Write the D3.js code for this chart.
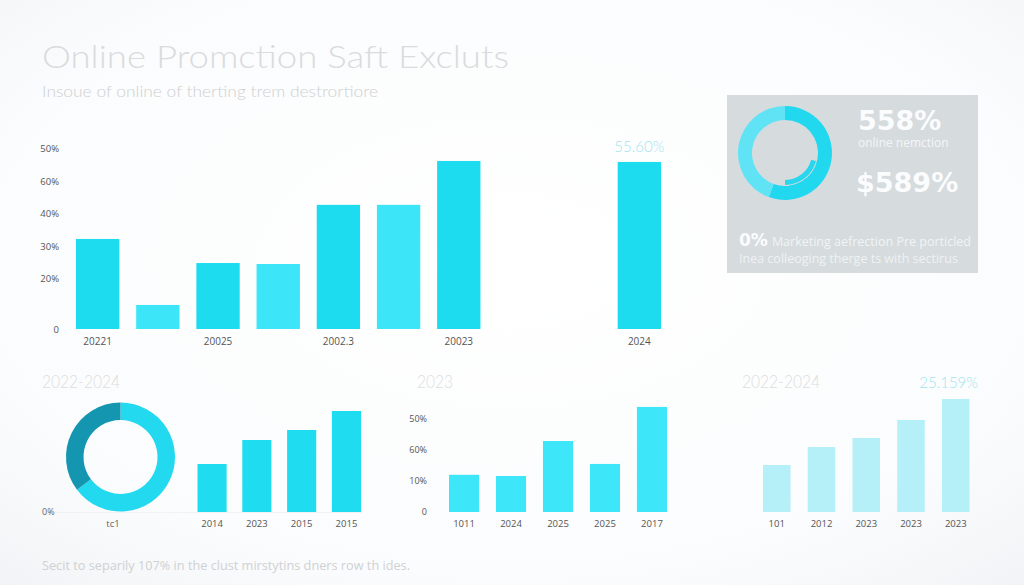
<!DOCTYPE html>
<html>
<head>
<meta charset="utf-8">
<script src="https://cdn.jsdelivr.net/npm/d3@7/dist/d3.min.js"></script>
<style>
  html, body { margin: 0; padding: 0; background: #fbfcfd; }
  svg { display: block; }
  .tick text { font-family: "Open Sans", sans-serif; }
</style>
</head>
<body>
<svg id="chart" width="1024" height="585"></svg>
<script>
// # DATA
// # ------------------------------
var mainLabels  = ["20221", "", "20025", "", "2002.3", "", "20023", "", "", "2024"];
var mainValues  = [27.7, 7.4, 20.3, 20.0, 38.2, 38.2, 51.7, null, null, 51.4];
var mainShade   = ["dark", "light", "dark", "light", "dark", "light", "dark", "", "", "dark"];
var mainTicks   = [0, 15.4, 25.4, 35.4, 45.4, 55.4];
var mainTickTxt = ["0", "20%", "30%", "40%", "60%", "50%"];

var panelRing   = [55.6, 44.4];
var panelInner  = [29, 21, 50];

var leftRing    = [64.7, 35.3];
var leftLabels  = ["2014", "2023", "2015", "2015"];
var leftValues  = [24, 36, 41, 50.5];

var midLabels   = ["1011", "2024", "2025", "2025", "2017"];
var midValues   = [12.0, 11.6, 22.9, 15.5, 33.9];
var midTicks    = [0, 10, 20, 30];
var midTickTxt  = ["0", "10%", "60%", "50%"];

var rightLabels = ["101", "2012", "2023", "2023", "2023"];
var rightValues = [23.5, 32.5, 37, 46, 56.5];

var svg = d3.select("#chart");

// ## background
// # ------------------------------
var defs = svg.append("defs");
var bg = defs.append("radialGradient").attr("id", "bg")
    .attr("cx", "50%").attr("cy", "45%").attr("r", "75%");
bg.append("stop").attr("offset", "0%").attr("stop-color", "#ffffff");
bg.append("stop").attr("offset", "70%").attr("stop-color", "#fbfcfd");
bg.append("stop").attr("offset", "100%").attr("stop-color", "#f1f4f6");
svg.append("rect").attr("width", 1024).attr("height", 585).attr("fill", "url(#bg)");

// ## text helper
// # ------------------------------
var addText = function(x, y, txt, size, color, opts) {
  opts = opts || {};
  var t = svg.append("text")
      .attr("x", x).attr("y", y)
      .attr("text-anchor", opts.anchor || "start")
      .style("font-family", opts.family || "Lato, 'Open Sans', sans-serif")
      .style("font-weight", opts.weight || 400)
      .style("font-size", size + "px")
      .style("fill", color)
      .text(txt);
  if (opts.len) t.attr("textLength", opts.len).attr("lengthAdjust", "spacingAndGlyphs");
  return t;
}

// # titles
addText(42, 68, "Online Promction Saft Excluts", 32, "#d9dbdd", {weight: 300, len: 467});
addText(42, 97, "Insoue of online of therting trem destrortiore", 15, "#cdd0d2", {weight: 300, len: 336});

// ## main bar chart
// # ------------------------------
var colorDark  = "#1edcf0";
var colorLight = "#3ce6f8";

var xMain = d3.scaleBand()
    .domain(d3.range(mainValues.length))
    .range([76, 661])
    .paddingInner(0.28)
    .paddingOuter(0);

var yMain = d3.scaleLinear().domain([0, 60]).range([329, 134]);

svg.append("g")
    .selectAll("rect")
    .data(mainValues.map(function(v, i) { return {v: v, i: i}; }).filter(function(d) { return d.v != null; }))
    .enter()
    .append("rect")
    .attr("x", function(d) { return xMain(d.i); })
    .attr("y", function(d) { return yMain(d.v); })
    .attr("width", xMain.bandwidth())
    .attr("height", function(d) { return yMain(0) - yMain(d.v); })
    .attr("fill", function(d) { return mainShade[d.i] == "light" ? colorLight : colorDark; });

var yAxisMain = svg.append("g")
    .attr("transform", "translate(62,0)")
    .call(d3.axisLeft(yMain).tickValues(mainTicks).tickSize(0).tickPadding(3)
      .tickFormat(function(d, i) { return mainTickTxt[i]; }));
yAxisMain.select(".domain").remove();
yAxisMain.selectAll("text").style("font-size", "9.5px").style("fill", "#555");

var xAxisMain = svg.append("g")
    .attr("transform", "translate(0,329)")
    .call(d3.axisBottom(xMain).tickSize(0).tickPadding(9)
      .tickFormat(function(d) { return mainLabels[d]; }));
xAxisMain.select(".domain").remove();
xAxisMain.selectAll("text").style("font-size", "10px").style("fill", "#555");

addText(xMain(9) + xMain.bandwidth() / 2, 152, "55.60%", 15, "#a3e5ee", {anchor: "middle", weight: 300});

// ## right info panel
// # ------------------------------
svg.append("rect")
    .attr("x", 727).attr("y", 95)
    .attr("width", 251).attr("height", 178)
    .attr("fill", "#d6dbde");

var pie = d3.pie().sort(null).value(function(d) { return d; });

var gPanel = svg.append("g").attr("transform", "translate(785,153)");
var panelArc = d3.arc().innerRadius(33).outerRadius(47);
gPanel.selectAll("path.ring")
    .data(pie(panelRing))
    .enter().append("path")
    .attr("class", "ring")
    .attr("d", panelArc)
    .attr("fill", function(d, i) { return i == 0 ? "#22d8ef" : "#5fe3f5"; });

var innerArc = d3.arc().innerRadius(27).outerRadius(32);
gPanel.selectAll("path.inner")
    .data(pie(panelInner).filter(function(d, i) { return i == 1; }))
    .enter().append("path")
    .attr("class", "inner")
    .attr("d", innerArc)
    .attr("fill", "#2ad6ee");

var whiteTxt = "#fbfcfd";
addText(858, 130, "558%", 27, whiteTxt, {weight: 700, family: "'DejaVu Sans', sans-serif"});
addText(858, 147, "online nemction", 12, "#f3f6f7", {family: "'Open Sans', sans-serif"});
addText(856, 192, "$589%", 27, whiteTxt, {weight: 700, family: "'DejaVu Sans', sans-serif"});

var line1 = addText(739, 246, "", 17, whiteTxt, {weight: 700, family: "'DejaVu Sans', sans-serif"});
line1.append("tspan").text("0%");
line1.append("tspan").attr("dx", 4).style("font-size", "12.5px").style("font-weight", 400)
    .style("font-family", "'Open Sans', sans-serif").style("fill", "#f1f4f5")
    .text("Marketing aefrection Pre porticled");
addText(739, 263, "Inea colleoging therge ts with sectirus", 12.5, "#eef2f3", {family: "'Open Sans', sans-serif"});

// ## bottom left: donut + bars
// # ------------------------------
addText(42, 388, "2022-2024", 17, "#dcdee0", {weight: 300, len: 78});

var gLeft = svg.append("g").attr("transform", "translate(120.5,457)");
var leftArc = d3.arc().innerRadius(37).outerRadius(54.5);
gLeft.selectAll("path")
    .data(pie(leftRing))
    .enter().append("path")
    .attr("d", leftArc)
    .attr("fill", function(d, i) { return i == 0 ? "#22d9ef" : "#1596b0"; });

svg.append("line")
    .attr("x1", 56).attr("x2", 362).attr("y1", 512.5).attr("y2", 512.5)
    .attr("stroke", "#f0f2f3").attr("stroke-width", 1);

addText(42, 515, "0%", 9, "#666", {family: "'Open Sans', sans-serif"});
addText(113, 527, "tc1", 9.5, "#666", {anchor: "middle", family: "'Open Sans', sans-serif"});

var drawBars = function(labels, values, x0, x1, pad, yDomain, yTop, color, labelColor) {
  var x = d3.scaleBand().domain(d3.range(values.length)).range([x0, x1]).paddingInner(pad).paddingOuter(0);
  var y = d3.scaleLinear().domain(yDomain).range([512, yTop]);

  svg.append("g")
      .selectAll("rect")
      .data(values)
      .enter()
      .append("rect")
      .attr("x", function(d, i) { return x(i); })
      .attr("y", function(d) { return y(d); })
      .attr("width", x.bandwidth())
      .attr("height", function(d) { return y(0) - y(d); })
      .attr("fill", color);

  var ax = svg.append("g")
      .attr("transform", "translate(0,512)")
      .call(d3.axisBottom(x).tickSize(0).tickPadding(8)
        .tickFormat(function(d) { return labels[d]; }));
  ax.select(".domain").remove();
  ax.selectAll("text").style("font-size", "9.5px").style("fill", labelColor);
  return y;
}

drawBars(leftLabels, leftValues, 197.5, 361, 0.35, [0, 50], 412, "#20dcf0", "#555");

// ## bottom middle
// # ------------------------------
addText(417, 388, "2023", 17, "#dcdee0", {weight: 300, len: 36});
var yMid = drawBars(midLabels, midValues, 449, 667, 0.36, [0, 40], 388, "#3de6f8", "#555");

var yAxisMid = svg.append("g")
    .attr("transform", "translate(430,0)")
    .call(d3.axisLeft(yMid).tickValues(midTicks).tickSize(0).tickPadding(3)
      .tickFormat(function(d, i) { return midTickTxt[i]; }));
yAxisMid.select(".domain").remove();
yAxisMid.selectAll("text").style("font-size", "9px").style("fill", "#555");

// ## bottom right
// # ------------------------------
addText(742, 388, "2022-2024", 17, "#dcdee0", {weight: 300, len: 78});
addText(978, 388, "25.159%", 15, "#9fe6ee", {anchor: "end", weight: 300});
drawBars(rightLabels, rightValues, 763, 969.5, 0.385, [0, 50], 412, "#b5eff8", "#555");

// # footer
addText(42, 570, "Secit to separily 107% in the clust mirstytins dners row th ides.", 12.5, "#cfd1d3", {family: "'Open Sans', sans-serif", len: 368});
</script>
</body>
</html>
